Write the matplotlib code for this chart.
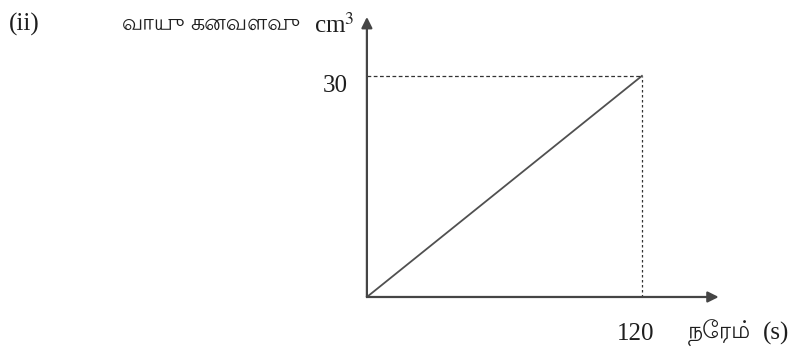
import matplotlib.pyplot as plt
from matplotlib import font_manager

# graph values: gas volume against time
time_s = [0, 120]
volume_cm3 = [0, 30]
x_ticks = [120]
y_ticks = [30]

x_word = 'நேரம்'
x_unit = '(s)'
y_words = ['வாயு', 'கனவளவு']
y_unit = 'cm$^3$'
part_label = '(ii)'

# serif for latin letters, fall back to a Tamil font for the words
names = {f.name for f in font_manager.fontManager.ttflist}
tamil = sorted(n for n in names if 'Tamil' in n or 'Lohit' in n or 'Latha' in n)
if 'Lohit Tamil' in tamil:
    tamil.insert(0, 'Lohit Tamil')
plt.rcParams['font.family'] = ['Liberation Serif'] + tamil[:1] + ['DejaVu Serif']
plt.rcParams['mathtext.fontset'] = 'stix'

fig = plt.figure(figsize=(7.95, 3.53), dpi=100)
ax = fig.add_axes([0, 0, 1, 1])
ax.set_xlim(-160.1, 186.8)
ax.set_ylim(-7.6, 40.3)
ax.axis('off')

ink = '#454545'
txt = '#1e1e1e'

# axes with arrow heads
ax.annotate('', xy=(153.5, 0), xytext=(0, 0),
            arrowprops=dict(arrowstyle='-|>', color=ink, lw=1.6,
                            mutation_scale=16, shrinkA=0, shrinkB=0))
ax.annotate('', xy=(0, 38.0), xytext=(0, 0),
            arrowprops=dict(arrowstyle='-|>', color=ink, lw=1.6,
                            mutation_scale=16, shrinkA=0, shrinkB=0))

# the straight line
ax.plot(time_s, volume_cm3, color='#505050', lw=1.3)

# guide lines to the end point
ax.plot([0, time_s[-1]], [volume_cm3[-1]] * 2, color='#333333', lw=0.9,
        ls=(0, (3, 2)))
ax.plot([time_s[-1]] * 2, [0, volume_cm3[-1]], color='#333333', lw=0.9,
        ls=(0, (2, 2)))

for t in x_ticks:
    ax.text(t - 2.6, -5.0, str(t), fontsize=18, ha='center', va='center',
            color=txt)
for v in y_ticks:
    ax.text(-14.0, v - 1.4, str(v), fontsize=18, ha='center', va='center',
            color=txt)

# axis titles
ax.text(140.1, -5.0, x_word, fontsize=17, ha='left', va='center', color=txt)
ax.text(172.8, -5.0, x_unit, fontsize=18, ha='left', va='center', color=txt)
ax.text(-106.9, 36.9, y_words[0], fontsize=16, ha='left', va='center',
        color=txt)
ax.text(-77.2, 36.9, y_words[1], fontsize=16, ha='left', va='center',
        color=txt)
ax.text(-5.6, 36.8, y_unit, fontsize=18, ha='right', va='center', color=txt)
ax.text(-149.4, 37.0, part_label, fontsize=18, ha='center', va='center',
        color=txt)

fig.savefig('out.png', dpi=100)
